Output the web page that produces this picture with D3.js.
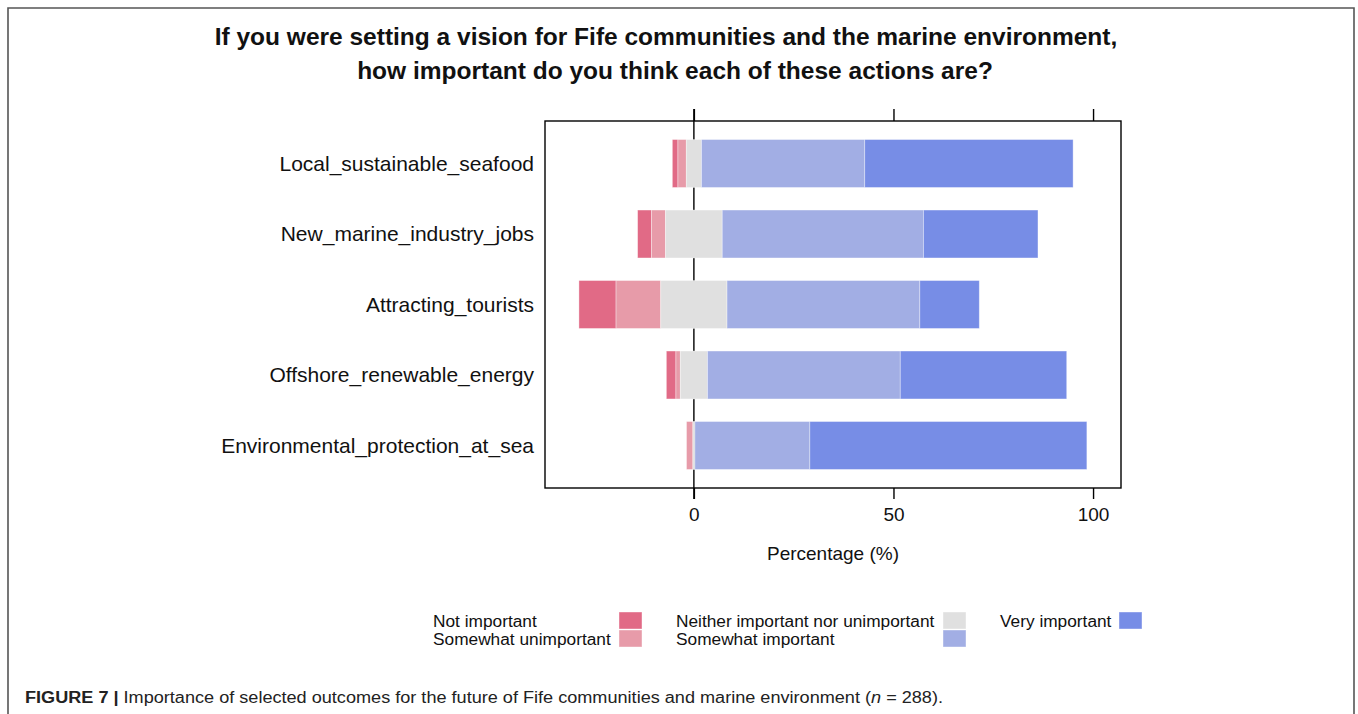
<!DOCTYPE html>
<html>
<head>
<meta charset="utf-8">
<script src="https://cdn.jsdelivr.net/npm/d3@7"></script>
<style>
  html, body { margin: 0; padding: 0; background: #fff; }
  svg { display: block; font-family: "Liberation Sans", Arial, sans-serif; }
</style>
</head>
<body>
<svg id="chart" width="1358" height="714"></svg>
<script>
const categories = [
  "Local_sustainable_seafood",
  "New_marine_industry_jobs",
  "Attracting_tourists",
  "Offshore_renewable_energy",
  "Environmental_protection_at_sea"
];
const levels = ["Not important", "Somewhat unimportant", "Neither important nor unimportant", "Somewhat important", "Very important"];
const notImportant        = [1.4, 3.5, 9.3, 2.4, 0.0];
const somewhatUnimportant = [2.1, 3.5, 11.2, 1.1, 1.6];
const neither             = [3.8, 14.2, 16.6, 6.8, 0.5];
const somewhatImportant   = [40.9, 50.4, 48.3, 48.3, 28.8];
const veryImportant       = [52.2, 28.7, 14.9, 41.7, 69.4];
const xTicks = [0, 50, 100];
const colors = ["#E16A86", "#E79BA9", "#E0E0E0", "#A2AEE4", "#778DE6"];

const title1 = "If you were setting a vision for Fife communities and the marine environment,";
const title2 = "how important do you think each of these actions are?";

const svg = d3.select("#chart");

// outer frame
svg.append("path")
  .attr("d", "M8,714 L8,8 L1354,8 L1354,714")
  .attr("fill", "none").attr("stroke", "#555").attr("stroke-width", 1.6);

// title
svg.append("text").attr("x", 666).attr("y", 45).attr("text-anchor", "middle")
  .attr("font-size", 24.5).attr("font-weight", "bold").attr("fill", "#111").text(title1);
svg.append("text").attr("x", 675).attr("y", 79).attr("text-anchor", "middle")
  .attr("font-size", 24.5).attr("font-weight", "bold").attr("fill", "#111").text(title2);

const panel = { left: 545, right: 1121, top: 121, bottom: 488 };
const x = d3.scaleLinear().domain([-37.3, 107]).range([panel.left, panel.right]);
const y = d3.scaleBand().domain(categories).range([panel.top, panel.bottom])
  .paddingInner(0.32).paddingOuter(0.263);

// build stacked segments (neutral split in half around zero)
const series = [notImportant, somewhatUnimportant, neither, somewhatImportant, veryImportant];
const segs = [];
categories.forEach((c, i) => {
  let start = -(series[0][i] + series[1][i] + series[2][i] / 2);
  series.forEach((s, k) => {
    segs.push({ cat: c, k: k, x0: start, x1: start + s[i] });
    start += s[i];
  });
});

// zero reference line (behind bars)
svg.append("line").attr("x1", x(0)).attr("x2", x(0))
  .attr("y1", panel.top - 12).attr("y2", panel.bottom + 11)
  .attr("stroke", "#000").attr("stroke-width", 1.4);

svg.append("g").selectAll("rect").data(segs.filter(d => d.x1 - d.x0 > 0)).join("rect")
  .attr("x", d => x(d.x0))
  .attr("width", d => x(d.x1) - x(d.x0))
  .attr("y", d => y(d.cat))
  .attr("height", y.bandwidth())
  .attr("fill", d => colors[d.k])
  .attr("stroke", "#fff").attr("stroke-opacity", 0.45).attr("stroke-width", 0.8);

// panel box
svg.append("rect").attr("x", panel.left).attr("y", panel.top)
  .attr("width", panel.right - panel.left).attr("height", panel.bottom - panel.top)
  .attr("fill", "none").attr("stroke", "#000").attr("stroke-width", 1.4);

// axes
const axB = d3.axisBottom(x).tickValues(xTicks).tickSize(11).tickPadding(9).tickFormat(d3.format("d"));
const gB = svg.append("g").attr("transform", `translate(0,${panel.bottom})`).call(axB);
gB.select(".domain").remove();
gB.selectAll(".tick line").attr("stroke", "#000").attr("stroke-width", 1.4);
gB.selectAll(".tick text").attr("font-size", 19).attr("fill", "#111")
  .attr("font-family", "'Liberation Sans', Arial, sans-serif");

const axT = d3.axisTop(x).tickValues(xTicks).tickSize(12).tickFormat("");
const gT = svg.append("g").attr("transform", `translate(0,${panel.top})`).call(axT);
gT.select(".domain").remove();
gT.selectAll(".tick line").attr("stroke", "#000").attr("stroke-width", 1.4);

// axis title
svg.append("text").attr("x", (panel.left + panel.right) / 2).attr("y", 560)
  .attr("text-anchor", "middle").attr("font-size", 19).attr("fill", "#111").text("Percentage (%)");

// category labels
svg.append("g").selectAll("text").data(categories).join("text")
  .attr("x", 534).attr("y", d => y(d) + y.bandwidth() / 2)
  .attr("dy", "0.35em").attr("text-anchor", "end")
  .attr("font-size", 21).attr("fill", "#111").text(d => d);

// legend
const legendPos = [
  { tx: 433, sx: 619, row: 0 },
  { tx: 433, sx: 619, row: 1 },
  { tx: 676, sx: 943, row: 0 },
  { tx: 676, sx: 943, row: 1 },
  { tx: 1000, sx: 1119, row: 0 }
];
const lg = svg.append("g");
levels.forEach((lab, k) => {
  const p = legendPos[k];
  lg.append("text").attr("x", p.tx).attr("y", 627 + p.row * 18)
    .attr("font-size", 17.3).attr("fill", "#111").text(lab);
  lg.append("rect").attr("x", p.sx).attr("y", 612 + p.row * 18)
    .attr("width", 23).attr("height", 17).attr("fill", colors[k])
    .attr("stroke", "#fff").attr("stroke-opacity", 0.5).attr("stroke-width", 0.8);
});

// caption
const cap = svg.append("text").attr("x", 25).attr("y", 703).attr("font-size", 16).attr("fill", "#222")
  .attr("textLength", 918).attr("lengthAdjust", "spacingAndGlyphs");
cap.append("tspan").attr("font-weight", "bold").text("FIGURE 7 | ");
cap.append("tspan").text("Importance of selected outcomes for the future of Fife communities and marine environment (");
cap.append("tspan").attr("font-style", "italic").text("n");
cap.append("tspan").text(" = 288).");
</script>
</body>
</html>
